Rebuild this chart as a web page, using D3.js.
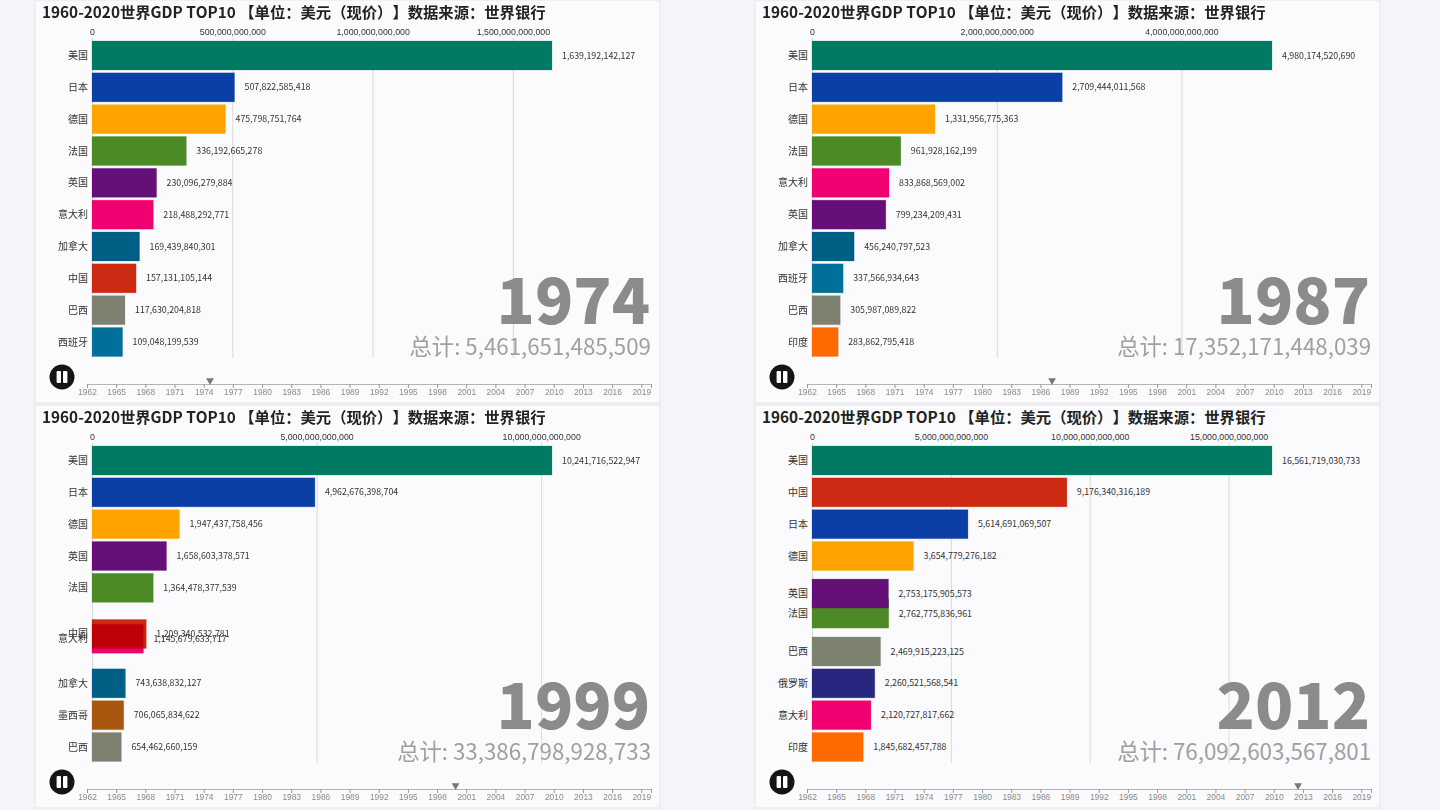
<!DOCTYPE html>
<html>
<head>
<meta charset="utf-8">
<script src="https://cdn.jsdelivr.net/npm/d3@7"></script>
<style>
html, body { margin: 0; padding: 0; background: #f5f4f8; overflow: hidden; }
svg { display: block; font-family: "Noto Sans CJK SC", "Noto Sans", sans-serif; }
.grid line { stroke: #d9d9dc; stroke-width: 1; }
.grid path, .top path, .top line { display: none; }
.top text { fill: #333; font-size: 8.8px; }
.timeline path { stroke: #b4b4b4; }
.timeline line { stroke: #999; }
.timeline text { fill: #8a8a8a; font-size: 8.4px; }
.title { text-spacing-trim: space-all; font-kerning: none; }
</style>
</head>
<body>
<div id="chart"></div>
<script>
var chartTitle = "1960-2020世界GDP TOP10 【单位：美元（现价）】数据来源：世界银行";

// one set of arrays for each of the four frames
var years = [1974, 1987, 1999, 2012];
var totals = [5461651485509, 17352171448039, 33386798928733, 76092603567801];
var playhead = [1974.65, 1987.2, 1999.9, 2012.5];

var names1974 = ["美国", "日本", "德国", "法国", "英国", "意大利", "加拿大", "中国", "巴西", "西班牙"];
var values1974 = [1639192142127, 507822585418, 475798751764, 336192665278, 230096279884, 218488292771, 169439840301, 157131105144, 117630204818, 109048199539];
var ranks1974 = [1, 2, 3, 4, 5, 6, 7, 8, 9, 10];
var ticks1974 = [0, 500000000000, 1000000000000, 1500000000000];

var names1987 = ["美国", "日本", "德国", "法国", "意大利", "英国", "加拿大", "西班牙", "巴西", "印度"];
var values1987 = [4980174520690, 2709444011568, 1331956775363, 961928162199, 833868569002, 799234209431, 456240797523, 337566934643, 305987089822, 283862795418];
var ranks1987 = [1, 2, 3, 4, 5, 6, 7, 8, 9, 10];
var ticks1987 = [0, 2000000000000, 4000000000000];

var names1999 = ["美国", "日本", "德国", "英国", "法国", "意大利", "中国", "加拿大", "墨西哥", "巴西"];
var values1999 = [10241716522947, 4962676398704, 1947437758456, 1658603378571, 1364478377539, 1145679633717, 1209340532781, 743638832127, 706065834622, 654462660159];
var ranks1999 = [1, 2, 3, 4, 5, 6.6, 6.45, 8, 9, 10];
var ticks1999 = [0, 5000000000000, 10000000000000];

var names2012 = ["美国", "中国", "日本", "德国", "英国", "法国", "巴西", "俄罗斯", "意大利", "印度"];
var values2012 = [16561719030733, 9176340316189, 5614691069507, 3654779276182, 2753175905573, 2762775836961, 2469915223125, 2260521568541, 2120727817662, 1845682457788];
var ranks2012 = [1, 2, 3, 4, 5.18, 5.81, 7, 8, 9, 10];
var ticks2012 = [0, 5000000000000, 10000000000000, 15000000000000];

var timelineTicks = [1962, 1965, 1968, 1971, 1974, 1977, 1980, 1983, 1986, 1989, 1992, 1995, 1998, 2001, 2004, 2007, 2010, 2013, 2016, 2019];

var countryColors = {
    "美国": "#007a62", "日本": "#0b3fa6", "德国": "#ffa300", "法国": "#4c8a25",
    "英国": "#650f78", "意大利": "#f00070", "加拿大": "#005f85", "中国": "#cc2a12",
    "巴西": "#7d8270", "西班牙": "#00709a", "印度": "#ff6a00", "墨西哥": "#a9560f",
    "俄罗斯": "#27277f"
};

var frames = [
    {names: names1974, values: values1974, ranks: ranks1974, ticks: ticks1974, ox: 0, oy: 0},
    {names: names1987, values: values1987, ranks: ranks1987, ticks: ticks1987, ox: 720, oy: 0},
    {names: names1999, values: values1999, ranks: ranks1999, ticks: ticks1999, ox: 0, oy: 405},
    {names: names2012, values: values2012, ranks: ranks2012, ticks: ticks2012, ox: 720, oy: 405}
];

var fmt = d3.format(",.0f");
var panelW = 625, panelH = 403;
var barH = 29;

var svg = d3.select("#chart").append("svg")
    .attr("width", 1440)
    .attr("height", 810);

// rank 1 is centred at y=55.5, rank 10 at y=342
var yScale = d3.scaleLinear().domain([1, 10]).range([55.5, 342]);
var timeScale = d3.scaleLinear().domain([1962, 2020]).range([87, 651]);

frames.forEach(function(f, i){
    var g = svg.append("g")
        .attr("transform", "translate(" + f.ox + "," + f.oy + ")");

    g.append("rect")
        .attr("x", 35)
        .attr("y", 0)
        .attr("width", panelW)
        .attr("height", panelH)
        .attr("fill", "#fbfbfd")
        .attr("stroke", "#e6e6e9");

    g.append("text")
        .attr("class", "title")
        .attr("x", 42)
        .attr("y", 18)
        .attr("font-size", 15.32)
        .attr("font-weight", 700)
        .attr("fill", "#222")
        .text(chartTitle);

    var x = d3.scaleLinear()
        .domain([0, d3.max(f.values)])
        .range([92, 552]);

    // grid lines
    g.append("g")
        .attr("class", "grid")
        .attr("transform", "translate(0,358)")
        .call(d3.axisBottom(x).tickValues(f.ticks).tickSize(-320).tickFormat(""));

    g.append("g")
        .attr("class", "top")
        .attr("transform", "translate(0,35)")
        .call(d3.axisTop(x).tickValues(f.ticks).tickSize(0).tickPadding(0).tickFormat(fmt));

    var rows = f.names.map(function(n, j){
        return {name: n, value: f.values[j], rank: f.ranks[j]};
    });
    // later ranks are drawn first so the overlap in 1999 has 中国 on top
    rows.sort(function(a, b){ return b.rank - a.rank; });

    g.selectAll("rect.bar")
        .data(rows)
        .enter().append("rect")
        .attr("class", "bar")
        .attr("x", x(0))
        .attr("y", function(d){ return yScale(d.rank) - barH / 2; })
        .attr("width", function(d){ return x(d.value) - x(0); })
        .attr("height", barH)
        .attr("fill", function(d){ return countryColors[d.name]; })
        .attr("stroke", function(d){ return countryColors[d.name]; })
        .attr("stroke-opacity", 0.22)
        .style("mix-blend-mode", function(d){
            // the 1999 frame is caught mid-swap, 中国 shows darker over 意大利
            return (years[i] == 1999 && d.name == "中国") ? "multiply" : null;
        });

    g.selectAll("text.name")
        .data(rows)
        .enter().append("text")
        .attr("class", "name")
        .attr("x", 88)
        .attr("y", function(d){ return yScale(d.rank); })
        .attr("dy", ".35em")
        .attr("text-anchor", "end")
        .attr("font-size", 10)
        .attr("fill", "#333")
        .text(function(d){ return d.name; });

    g.selectAll("text.val")
        .data(rows)
        .enter().append("text")
        .attr("class", "val")
        .attr("x", function(d){ return x(d.value) + 10; })
        .attr("y", function(d){ return yScale(d.rank); })
        .attr("dy", ".35em")
        .attr("font-size", 8.8)
        .attr("fill", "#333")
        .text(function(d){ return fmt(d.value); });

    g.append("text")
        .attr("x", 650)
        .attr("y", 324)
        .attr("text-anchor", "end")
        .attr("font-size", 63)
        .attr("font-weight", 900)
        .attr("fill", "#8a8b8d")
        .text(years[i]);

    g.append("text")
        .attr("x", 651)
        .attr("y", 355)
        .attr("text-anchor", "end")
        .attr("font-size", 22.3)
        .attr("fill", "#a0a0a2")
        .text("总计: " + fmt(totals[i]));

    // pause button
    g.append("circle")
        .attr("cx", 62)
        .attr("cy", 377)
        .attr("r", 12.5)
        .attr("fill", "#151515");
    g.selectAll("rect.pause")
        .data([-3.2, 3.2])
        .enter().append("rect")
        .attr("class", "pause")
        .attr("x", function(d){ return 62 + d - 2.2; })
        .attr("y", 371)
        .attr("width", 4.4)
        .attr("height", 12)
        .attr("rx", 1)
        .attr("fill", "#fff");

    // timeline
    g.append("g")
        .attr("class", "timeline")
        .attr("transform", "translate(0,384)")
        .call(d3.axisBottom(timeScale).tickValues(timelineTicks.concat([2020])).tickSize(4).tickPadding(1)
            .tickFormat(function(d){ return d == 2020 ? "" : d; }));

    g.append("path")
        .attr("d", d3.symbol().type(d3.symbolTriangle).size(26))
        .attr("transform", "translate(" + timeScale(playhead[i]) + ",380.5) rotate(180)")
        .attr("fill", "#777");
});
</script>
</body>
</html>
